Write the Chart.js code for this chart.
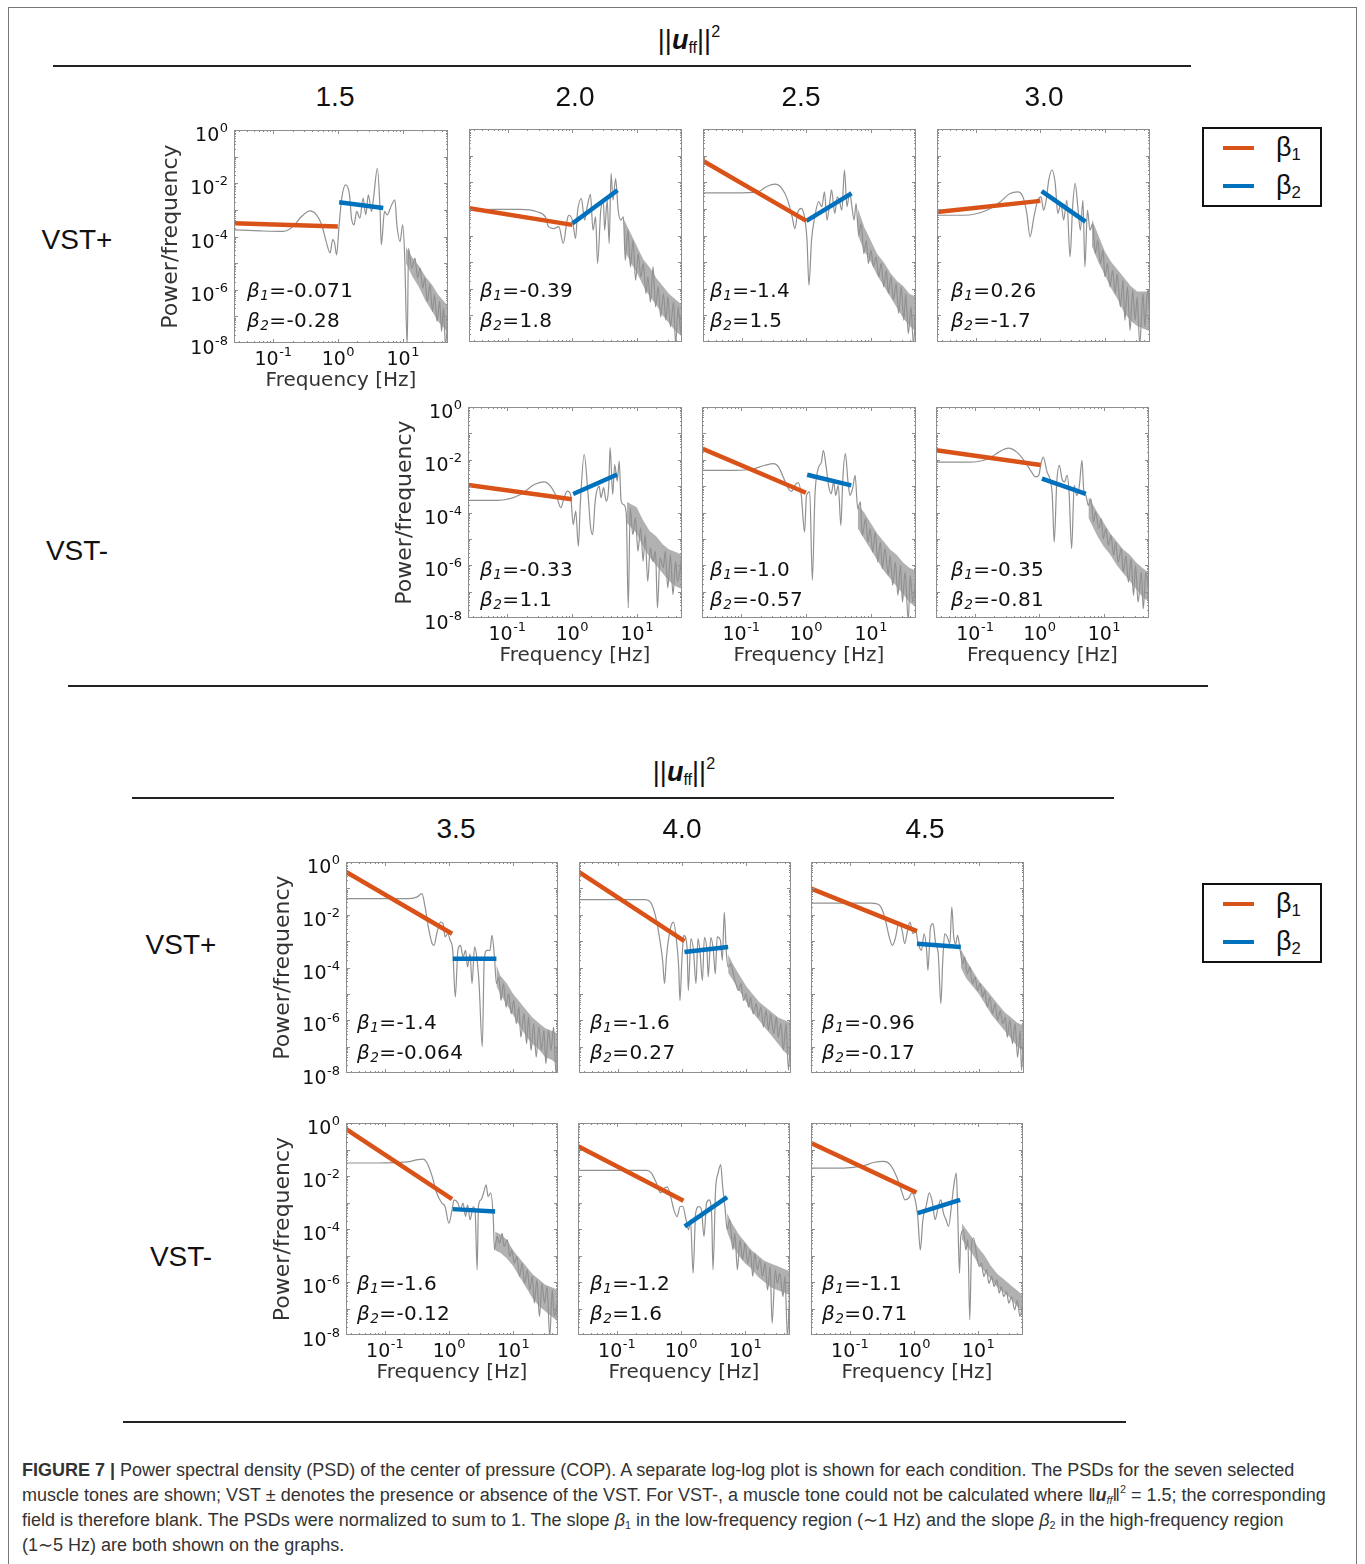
<!DOCTYPE html>
<html><head><meta charset="utf-8">
<script src="https://cdn.jsdelivr.net/npm/chart.js@4.4.1/dist/chart.umd.min.js"></script>
<style>
html,body{margin:0;padding:0;background:#fff;}
body{width:1365px;height:1564px;position:relative;overflow:hidden;font-family:"Liberation Sans",Arial,sans-serif;color:#111;}
canvas{position:absolute;}
.frame{position:absolute;left:8px;top:7px;width:1349px;height:1560px;border:1px solid #777;box-sizing:border-box;}
.hdr{position:absolute;font-size:28px;transform:translate(-50%,-50%);white-space:nowrap;line-height:1;}
.rule{position:absolute;height:2px;background:#222;}
.beta{position:absolute;font-family:"DejaVu Sans",sans-serif;font-size:20px;letter-spacing:0.4px;line-height:30px;white-space:nowrap;color:#111;}
.beta sub{font-size:0.68em;vertical-align:-0.22em;font-style:italic;line-height:0;}
.legend{position:absolute;border:2px solid #111;box-sizing:border-box;width:120px;height:80px;}
.legend .ln{position:absolute;left:19px;width:31px;height:4px;}
.legend .lt{position:absolute;left:72px;font-size:27px;line-height:1;}
.legend .lt sub{font-size:0.62em;vertical-align:-0.25em;line-height:0;}
.cap{position:absolute;left:22px;top:1458px;font-size:18px;line-height:25px;color:#333;white-space:nowrap;}
sup.s{font-size:0.6em;vertical-align:0.7em;line-height:0;}
sub.s{font-size:0.6em;vertical-align:-0.25em;line-height:0;}
</style>
</head><body>
<div class="frame"></div>

<script>
// ---------- DATA (log10 frequency, log10 power) ----------
const tones = ['1.5','2.0','2.5','3.0','3.5','4.0','4.5'];
const conditions = ['VST+','VST-'];
const xTickValues = [0.1, 1, 10];
const yTickValues = [1e-8, 1e-6, 1e-4, 1e-2, 1];
const xTickExps = ['-1','0','1'];
const yTickExps = ['-8','-6','-4','-2','0'];

const beta1Labels = ['-0.071','-0.39','-1.4','0.26','-0.33','-1.0','-0.35','-1.4','-1.6','-0.96','-1.6','-1.2','-1.1'];
const beta2Labels = ['-0.28','1.8','1.5','-1.7','1.1','-0.57','-0.81','-0.064','0.27','-0.17','-0.12','1.6','0.71'];

// 1.5 VST+
const psd_15_plus = [[-1.6,-3.75],[-1.2,-3.79],[-0.84,-3.81],[-0.69,-3.62],[-0.56,-3.25],[-0.43,-3.04],[-0.33,-3.19],[-0.25,-3.56],[-0.18,-4.19],[-0.12,-4.62],[-0.08,-4.12],[-0.05,-4.25],[-0.02,-4.69],[0.02,-3.56],[0.06,-2.56],[0.12,-2.06],[0.18,-2.44],[0.21,-3.31],[0.25,-3.56],[0.29,-3.06],[0.34,-3.31],[0.39,-2.56],[0.43,-3.19],[0.47,-2.44],[0.52,-3.06],[0.55,-2.56],[0.61,-1.44],[0.65,-2.94],[0.67,-4.31],[0.72,-3.06],[0.76,-3.19],[0.83,-2.81],[0.88,-2.62],[0.91,-3.56],[0.96,-4.19],[1.0,-3.56],[1.03,-4.69],[1.07,-8.1],[1.09,-4.44],[1.14,-5.19],[1.19,-4.81],[1.23,-5.56],[1.27,-5.19],[1.31,-5.94],[1.34,-5.56],[1.38,-6.44],[1.42,-5.81],[1.46,-6.81],[1.49,-6.19],[1.53,-7.19],[1.57,-6.44],[1.6,-7.56],[1.63,-6.69],[1.66,-8.1],[1.7,-6.81]];
const band_15_plus = [[1.05,-4.4,-5.0],[1.15,-4.8,-5.5],[1.25,-5.1,-5.9],[1.35,-5.5,-6.4],[1.45,-5.8,-6.8],[1.55,-6.2,-7.2],[1.7,-6.6,-7.6]];
const fit1_15_plus = [[-1.6,-3.5],[0,-3.62]];
const fit2_15_plus = [[0.02,-2.71],[0.7,-2.93]];

// 2.0 VST+
const psd_20_plus = [[-1.6,-3.05],[-1.22,-3.02],[-0.81,-3.02],[-0.55,-3.11],[-0.42,-3.3],[-0.37,-3.67],[-0.29,-3.74],[-0.21,-3.67],[-0.14,-4.3],[-0.09,-3.55],[-0.06,-3.24],[0.0,-3.42],[0.05,-4.11],[0.08,-3.11],[0.14,-2.61],[0.19,-3.42],[0.23,-2.92],[0.28,-2.45],[0.32,-3.8],[0.36,-3.3],[0.39,-5.05],[0.44,-3.05],[0.48,-2.67],[0.5,-3.8],[0.54,-2.67],[0.57,-4.3],[0.6,-1.67],[0.63,-2.67],[0.67,-1.86],[0.71,-3.05],[0.75,-3.42],[0.79,-3.3],[0.82,-4.93],[0.86,-3.8],[0.9,-5.18],[0.94,-4.18],[0.98,-5.68],[1.02,-4.68],[1.06,-5.55],[1.1,-5.05],[1.14,-6.18],[1.17,-5.55],[1.21,-6.5],[1.25,-5.18],[1.29,-6.68],[1.33,-5.93],[1.37,-7.06],[1.41,-6.18],[1.45,-7.18],[1.48,-6.3],[1.52,-7.43],[1.57,-6.5],[1.6,-8.1],[1.64,-6.68],[1.68,-7.68],[1.7,-6.8]];
const band_20_plus = [[0.8,-3.4,-4.5],[0.9,-3.9,-5.0],[1.0,-4.4,-5.4],[1.1,-4.9,-5.9],[1.2,-5.2,-6.3],[1.3,-5.6,-6.6],[1.4,-5.9,-7.0],[1.5,-6.2,-7.3],[1.6,-6.4,-7.6],[1.7,-6.6,-7.8]];
const fit1_20_plus = [[-1.6,-2.98],[0,-3.6]];
const fit2_20_plus = [[0.0,-3.55],[0.7,-2.3]];

// 2.5 VST+
const psd_25_plus = [[-1.6,-2.4],[-1.11,-2.4],[-0.75,-2.36],[-0.62,-2.17],[-0.49,-2.07],[-0.38,-2.23],[-0.29,-2.67],[-0.22,-3.3],[-0.18,-3.74],[-0.13,-3.11],[-0.08,-2.98],[-0.03,-3.3],[0.01,-4.18],[0.04,-5.87],[0.08,-4.18],[0.13,-3.3],[0.19,-2.73],[0.24,-2.92],[0.28,-2.36],[0.32,-3.42],[0.36,-2.8],[0.39,-2.29],[0.44,-3.17],[0.48,-2.55],[0.51,-2.67],[0.55,-3.05],[0.59,-1.54],[0.63,-2.92],[0.67,-2.36],[0.7,-2.8],[0.74,-3.42],[0.77,-2.8],[0.81,-3.99],[0.85,-3.55],[0.89,-4.68],[0.93,-4.18],[0.96,-5.05],[1.0,-4.55],[1.04,-5.18],[1.08,-4.8],[1.12,-5.55],[1.16,-5.05],[1.2,-5.93],[1.24,-5.3],[1.27,-6.18],[1.31,-5.55],[1.35,-6.43],[1.39,-5.8],[1.43,-6.93],[1.47,-5.93],[1.51,-7.18],[1.54,-6.18],[1.58,-7.69],[1.62,-6.68],[1.66,-8.1],[1.7,-6.43]];
const band_25_plus = [[0.8,-3.0,-4.0],[0.9,-3.7,-4.6],[1.0,-4.2,-5.0],[1.1,-4.7,-5.5],[1.2,-5.0,-5.9],[1.3,-5.4,-6.3],[1.4,-5.7,-6.7],[1.5,-5.9,-7.1],[1.6,-6.2,-7.4],[1.7,-6.3,-7.6]];
const fit1_25_plus = [[-1.6,-1.2],[0,-3.45]];
const fit2_25_plus = [[0,-3.45],[0.7,-2.42]];

// 3.0 VST+
const psd_30_plus = [[-1.6,-3.24],[-1.19,-3.24],[-0.83,-3.05],[-0.62,-2.73],[-0.47,-2.42],[-0.35,-2.36],[-0.27,-2.55],[-0.21,-3.17],[-0.16,-4.05],[-0.1,-3.3],[-0.04,-2.67],[0.01,-2.55],[0.05,-3.05],[0.09,-2.67],[0.13,-1.92],[0.18,-1.54],[0.23,-2.04],[0.27,-3.17],[0.32,-2.8],[0.36,-3.42],[0.41,-2.67],[0.46,-4.8],[0.5,-2.92],[0.54,-2.04],[0.58,-2.92],[0.62,-3.8],[0.66,-2.67],[0.69,-5.18],[0.73,-3.05],[0.77,-3.8],[0.81,-3.55],[0.85,-4.68],[0.89,-4.18],[0.93,-5.05],[0.97,-4.55],[1.0,-5.55],[1.04,-5.05],[1.08,-5.93],[1.12,-5.3],[1.16,-6.18],[1.19,-5.43],[1.24,-6.68],[1.28,-5.68],[1.31,-7.18],[1.35,-5.93],[1.39,-7.56],[1.43,-6.06],[1.47,-7.18],[1.5,-6.31],[1.54,-8.1],[1.59,-6.18],[1.62,-7.43],[1.66,-6.06],[1.7,-7.18]];
const band_30_plus = [[0.8,-3.4,-4.4],[0.9,-4.0,-5.0],[1.0,-4.6,-5.5],[1.1,-5.0,-6.0],[1.2,-5.3,-6.4],[1.3,-5.6,-6.9],[1.4,-5.9,-7.2],[1.5,-6.1,-7.4],[1.6,-6.1,-7.5],[1.7,-6.1,-7.6]];
const fit1_30_plus = [[-1.6,-3.12],[0,-2.7]];
const fit2_30_plus = [[0.02,-2.33],[0.7,-3.48]];

// 2.0 VST-
const psd_20_minus = [[-1.6,-3.54],[-1.15,-3.54],[-0.79,-3.32],[-0.58,-2.94],[-0.43,-2.84],[-0.33,-3.0],[-0.23,-3.44],[-0.17,-3.82],[-0.12,-3.44],[-0.07,-3.19],[-0.02,-3.32],[0.02,-4.46],[0.06,-3.95],[0.1,-5.28],[0.13,-3.7],[0.19,-1.8],[0.25,-3.32],[0.29,-4.58],[0.32,-4.84],[0.36,-3.57],[0.42,-3.0],[0.45,-3.44],[0.49,-3.06],[0.53,-3.57],[0.57,-2.94],[0.59,-1.54],[0.63,-3.32],[0.66,-2.18],[0.7,-2.81],[0.73,-2.05],[0.76,-3.57],[0.8,-3.7],[0.84,-4.08],[0.87,-7.62],[0.9,-3.82],[0.94,-4.84],[0.98,-4.2],[1.02,-5.47],[1.06,-4.58],[1.1,-5.85],[1.13,-4.84],[1.17,-6.61],[1.21,-5.34],[1.25,-5.85],[1.29,-5.47],[1.32,-7.62],[1.36,-5.72],[1.41,-6.1],[1.44,-5.47],[1.48,-6.86],[1.52,-5.6],[1.56,-7.11],[1.6,-5.85],[1.63,-6.61],[1.7,-5.6]];
const band_20_minus = [[0.85,-3.6,-4.4],[1.0,-3.8,-4.8],[1.1,-4.3,-5.3],[1.2,-4.7,-5.7],[1.3,-4.9,-6.0],[1.4,-5.2,-6.3],[1.5,-5.4,-6.6],[1.6,-5.5,-6.8],[1.7,-5.6,-6.9]];
const fit1_20_minus = [[-1.6,-2.96],[0,-3.5]];
const fit2_20_minus = [[0.02,-3.3],[0.7,-2.56]];

// 2.5 VST-
const psd_25_minus = [[-1.6,-2.4],[-1.09,-2.4],[-0.84,-2.36],[-0.63,-2.21],[-0.5,-2.15],[-0.42,-2.28],[-0.35,-2.65],[-0.27,-3.1],[-0.22,-3.2],[-0.17,-2.97],[-0.12,-2.87],[-0.07,-3.35],[-0.02,-4.74],[0.01,-3.35],[0.06,-3.22],[0.1,-6.57],[0.14,-3.35],[0.19,-2.34],[0.24,-2.09],[0.27,-1.64],[0.31,-2.21],[0.35,-2.97],[0.39,-3.29],[0.43,-2.84],[0.46,-3.35],[0.5,-2.97],[0.54,-4.49],[0.57,-2.72],[0.61,-1.77],[0.65,-2.84],[0.68,-3.35],[0.72,-3.1],[0.76,-2.59],[0.8,-3.86],[0.84,-3.6],[0.87,-4.87],[0.92,-4.24],[0.96,-5.12],[0.99,-4.61],[1.03,-5.5],[1.07,-4.74],[1.11,-5.88],[1.15,-5.12],[1.18,-6.13],[1.22,-5.37],[1.27,-6.38],[1.3,-5.63],[1.34,-6.76],[1.38,-5.88],[1.42,-7.14],[1.46,-6.0],[1.49,-7.4],[1.53,-6.26],[1.58,-8.1],[1.61,-6.38],[1.65,-7.4],[1.7,-6.38]];
const band_25_minus = [[0.8,-3.7,-4.6],[0.9,-4.0,-5.0],[1.0,-4.4,-5.4],[1.1,-4.8,-5.8],[1.2,-5.1,-6.2],[1.3,-5.4,-6.5],[1.4,-5.6,-6.8],[1.5,-5.9,-7.1],[1.6,-6.1,-7.4],[1.7,-6.2,-7.6]];
const fit1_25_minus = [[-1.6,-1.58],[0,-3.25]];
const fit2_25_minus = [[0.02,-2.57],[0.7,-2.97]];

// 3.0 VST-
const psd_30_minus = [[-1.6,-2.09],[-1.09,-2.09],[-0.79,-1.96],[-0.63,-1.71],[-0.48,-1.56],[-0.35,-1.71],[-0.24,-2.02],[-0.17,-2.28],[-0.12,-2.47],[-0.06,-2.65],[-0.01,-2.59],[0.03,-2.09],[0.06,-1.9],[0.12,-2.47],[0.17,-2.78],[0.2,-3.35],[0.23,-5.12],[0.27,-2.84],[0.31,-2.21],[0.35,-2.72],[0.39,-2.84],[0.43,-2.59],[0.46,-3.22],[0.5,-5.37],[0.54,-2.97],[0.58,-3.35],[0.62,-2.97],[0.66,-2.02],[0.69,-3.22],[0.72,-3.35],[0.76,-3.73],[0.8,-3.48],[0.84,-4.36],[0.87,-3.98],[0.92,-4.61],[0.96,-4.24],[0.99,-4.99],[1.03,-4.61],[1.07,-5.25],[1.11,-4.87],[1.15,-5.63],[1.18,-5.12],[1.22,-5.88],[1.27,-5.37],[1.3,-6.26],[1.34,-5.63],[1.38,-6.64],[1.42,-5.76],[1.46,-7.14],[1.49,-6.0],[1.53,-7.4],[1.58,-6.26],[1.61,-7.65],[1.65,-6.26],[1.7,-7.14]];
const band_30_minus = [[0.76,-3.4,-4.2],[0.9,-4.0,-4.9],[1.0,-4.4,-5.3],[1.1,-4.8,-5.6],[1.2,-5.1,-6.0],[1.3,-5.4,-6.3],[1.4,-5.6,-6.6],[1.5,-5.9,-6.9],[1.6,-6.1,-7.2],[1.7,-6.3,-7.4]];
const fit1_30_minus = [[-1.6,-1.64],[0.02,-2.2]];
const fit2_30_minus = [[0.04,-2.72],[0.72,-3.29]];

// 3.5 VST+
const psd_35_plus = [[-1.6,-1.39],[-1.12,-1.39],[-0.65,-1.39],[-0.5,-1.33],[-0.42,-1.2],[-0.37,-1.71],[-0.32,-2.47],[-0.26,-3.1],[-0.23,-3.16],[-0.19,-2.72],[-0.13,-2.28],[-0.09,-2.34],[-0.06,-2.84],[-0.02,-2.72],[0.02,-2.97],[0.06,-3.35],[0.1,-5.12],[0.14,-3.35],[0.18,-3.16],[0.22,-3.6],[0.26,-3.35],[0.29,-3.98],[0.33,-3.48],[0.36,-4.61],[0.4,-3.22],[0.44,-3.73],[0.47,-4.61],[0.52,-7.0],[0.55,-3.73],[0.59,-3.35],[0.64,-3.35],[0.67,-2.78],[0.71,-3.6],[0.74,-4.61],[0.78,-4.36],[0.81,-5.25],[0.85,-4.61],[0.89,-5.5],[0.93,-4.99],[0.97,-5.75],[1.01,-5.25],[1.05,-6.13],[1.09,-5.5],[1.12,-6.64],[1.17,-5.75],[1.21,-6.89],[1.24,-5.88],[1.28,-7.14],[1.32,-6.13],[1.36,-7.4],[1.4,-6.26],[1.44,-7.14],[1.48,-6.38],[1.51,-7.65],[1.55,-6.38],[1.59,-7.14],[1.63,-6.26],[1.67,-8.1],[1.7,-6.64]];
const band_35_plus = [[0.74,-3.9,-4.7],[0.8,-4.3,-5.0],[0.9,-4.6,-5.4],[1.0,-5.0,-5.8],[1.1,-5.3,-6.2],[1.2,-5.6,-6.6],[1.3,-5.9,-6.9],[1.4,-6.1,-7.1],[1.5,-6.3,-7.4],[1.6,-6.4,-7.5],[1.7,-6.5,-7.7]];
const fit1_35_plus = [[-1.6,-0.38],[0.05,-2.72]];
const fit2_35_plus = [[0.06,-3.67],[0.74,-3.67]];

// 4.0 VST+
const psd_40_plus = [[-1.6,-1.43],[-1.12,-1.43],[-0.57,-1.43],[-0.49,-1.52],[-0.42,-1.96],[-0.35,-2.84],[-0.3,-3.73],[-0.27,-4.61],[-0.24,-3.6],[-0.18,-2.53],[-0.13,-2.28],[-0.09,-2.84],[-0.05,-3.98],[-0.03,-5.25],[0.0,-3.73],[0.03,-2.78],[0.08,-3.22],[0.1,-4.87],[0.14,-2.9],[0.18,-3.35],[0.22,-4.61],[0.25,-2.9],[0.28,-3.35],[0.32,-4.49],[0.35,-2.87],[0.39,-3.35],[0.41,-4.36],[0.45,-2.87],[0.49,-3.35],[0.52,-4.24],[0.55,-2.84],[0.6,-2.97],[0.63,-3.73],[0.66,-1.9],[0.69,-3.35],[0.72,-3.98],[0.76,-3.86],[0.8,-4.24],[0.84,-4.61],[0.88,-4.87],[0.92,-4.61],[0.96,-5.25],[1.0,-4.99],[1.04,-5.5],[1.07,-5.12],[1.11,-5.75],[1.16,-5.37],[1.19,-5.88],[1.23,-5.5],[1.27,-6.26],[1.31,-5.63],[1.35,-6.38],[1.38,-5.75],[1.43,-6.51],[1.47,-5.88],[1.5,-6.64],[1.54,-6.13],[1.58,-7.14],[1.62,-6.13],[1.66,-7.9],[1.7,-6.0]];
const band_40_plus = [[0.72,-3.5,-4.2],[0.8,-3.9,-4.5],[0.9,-4.3,-4.9],[1.0,-4.7,-5.3],[1.1,-5.0,-5.7],[1.2,-5.3,-6.0],[1.3,-5.5,-6.3],[1.4,-5.7,-6.6],[1.5,-5.9,-6.9],[1.6,-6.0,-7.2],[1.7,-6.1,-7.4]];
const fit1_40_plus = [[-1.6,-0.38],[0.04,-3.0]];
const fit2_40_plus = [[0.04,-3.41],[0.72,-3.22]];

// 4.5 VST+
const psd_45_plus = [[-1.6,-1.56],[-1.11,-1.56],[-0.67,-1.56],[-0.54,-1.64],[-0.46,-2.09],[-0.39,-2.84],[-0.34,-3.16],[-0.29,-2.84],[-0.24,-2.28],[-0.19,-2.59],[-0.15,-3.1],[-0.11,-2.65],[-0.07,-2.28],[-0.02,-2.72],[0.02,-2.59],[0.06,-3.1],[0.11,-3.35],[0.15,-2.72],[0.19,-3.35],[0.21,-4.11],[0.25,-2.47],[0.29,-2.34],[0.33,-3.1],[0.37,-3.48],[0.41,-5.37],[0.44,-3.73],[0.47,-2.72],[0.51,-2.84],[0.55,-3.1],[0.58,-1.71],[0.61,-2.84],[0.64,-3.1],[0.67,-2.78],[0.71,-3.35],[0.75,-3.86],[0.78,-3.6],[0.82,-4.24],[0.86,-3.98],[0.9,-4.61],[0.94,-4.36],[0.98,-4.87],[1.02,-4.61],[1.06,-5.12],[1.09,-4.87],[1.13,-5.5],[1.17,-5.12],[1.21,-5.75],[1.25,-5.37],[1.29,-6.0],[1.33,-5.63],[1.37,-6.13],[1.41,-5.88],[1.44,-6.64],[1.48,-6.0],[1.52,-6.89],[1.56,-6.13],[1.6,-7.4],[1.64,-6.38],[1.66,-7.9],[1.7,-6.13]];
const band_45_plus = [[0.72,-3.3,-4.0],[0.8,-3.7,-4.4],[0.9,-4.1,-4.7],[1.0,-4.5,-5.0],[1.1,-4.8,-5.4],[1.2,-5.1,-5.8],[1.3,-5.4,-6.1],[1.4,-5.7,-6.4],[1.5,-5.9,-6.7],[1.6,-6.1,-7.0],[1.7,-6.2,-7.2]];
const fit1_45_plus = [[-1.6,-1.01],[0.04,-2.62]];
const fit2_45_plus = [[0.04,-3.1],[0.72,-3.22]];

// 3.5 VST-
const psd_35_minus = [[-1.6,-1.51],[-1.12,-1.51],[-0.65,-1.47],[-0.5,-1.39],[-0.4,-1.36],[-0.34,-1.51],[-0.26,-2.02],[-0.19,-2.64],[-0.11,-3.02],[-0.06,-3.15],[0.0,-3.78],[0.05,-3.27],[0.08,-2.9],[0.14,-3.02],[0.18,-3.27],[0.22,-3.02],[0.26,-3.53],[0.29,-3.09],[0.33,-3.65],[0.38,-3.15],[0.41,-3.4],[0.44,-5.54],[0.46,-3.15],[0.5,-2.9],[0.54,-2.64],[0.58,-2.33],[0.61,-2.77],[0.65,-2.64],[0.69,-3.53],[0.71,-4.79],[0.75,-4.28],[0.79,-4.53],[0.83,-4.16],[0.86,-4.66],[0.91,-4.41],[0.95,-5.04],[0.98,-4.79],[1.02,-5.29],[1.06,-5.04],[1.1,-5.79],[1.14,-5.29],[1.18,-6.05],[1.22,-5.54],[1.26,-6.3],[1.3,-5.79],[1.33,-6.8],[1.37,-5.92],[1.41,-7.3],[1.45,-6.05],[1.49,-6.8],[1.53,-6.17],[1.57,-8.1],[1.61,-6.3],[1.64,-7.3],[1.7,-6.55]];
const band_35_minus = [[0.72,-4.1,-4.8],[0.8,-4.2,-4.9],[0.9,-4.4,-5.1],[1.0,-4.8,-5.4],[1.1,-5.1,-5.8],[1.2,-5.4,-6.2],[1.3,-5.7,-6.6],[1.4,-5.9,-6.9],[1.5,-6.1,-7.1],[1.6,-6.2,-7.3],[1.7,-6.3,-7.5]];
const fit1_35_minus = [[-1.6,-0.23],[0.05,-2.87]];
const fit2_35_minus = [[0.06,-3.25],[0.72,-3.34]];

// 4.0 VST-
const psd_40_minus = [[-1.6,-1.79],[-1.11,-1.79],[-0.53,-1.79],[-0.46,-1.89],[-0.38,-2.27],[-0.32,-2.64],[-0.26,-2.46],[-0.21,-2.42],[-0.16,-2.77],[-0.11,-3.27],[-0.06,-3.53],[-0.01,-3.15],[0.03,-3.15],[0.08,-3.65],[0.12,-4.03],[0.15,-3.65],[0.19,-5.67],[0.23,-3.4],[0.28,-3.15],[0.32,-3.27],[0.36,-4.28],[0.4,-3.02],[0.44,-2.9],[0.48,-3.53],[0.5,-5.54],[0.54,-2.52],[0.58,-1.89],[0.62,-1.57],[0.65,-2.39],[0.69,-3.27],[0.72,-4.03],[0.76,-3.65],[0.81,-4.79],[0.84,-4.16],[0.88,-5.54],[0.92,-4.41],[0.96,-5.16],[1.0,-4.53],[1.04,-5.29],[1.08,-4.79],[1.12,-5.79],[1.15,-4.91],[1.19,-5.54],[1.23,-5.16],[1.27,-5.79],[1.31,-5.29],[1.35,-6.3],[1.39,-5.42],[1.42,-7.56],[1.47,-5.54],[1.5,-6.05],[1.54,-5.67],[1.59,-6.55],[1.62,-5.79],[1.66,-8.1],[1.7,-5.79]];
const band_40_minus = [[0.72,-3.4,-4.1],[0.8,-3.8,-4.6],[0.9,-4.2,-5.0],[1.0,-4.5,-5.3],[1.1,-4.8,-5.5],[1.2,-5.0,-5.8],[1.3,-5.2,-6.0],[1.4,-5.3,-6.2],[1.5,-5.4,-6.3],[1.6,-5.5,-6.4],[1.7,-5.6,-6.5]];
const fit1_40_minus = [[-1.6,-0.88],[0.04,-2.93]];
const fit2_40_minus = [[0.06,-3.9],[0.72,-2.8]];

// 4.5 VST-
const psd_45_minus = [[-1.6,-1.7],[-1.09,-1.7],[-0.78,-1.61],[-0.63,-1.49],[-0.47,-1.45],[-0.37,-1.57],[-0.27,-2.02],[-0.19,-2.58],[-0.14,-2.9],[-0.08,-2.83],[-0.03,-2.64],[0.02,-2.9],[0.06,-3.53],[0.1,-4.79],[0.14,-3.65],[0.19,-3.15],[0.24,-2.64],[0.29,-3.02],[0.33,-3.65],[0.38,-3.15],[0.42,-2.9],[0.46,-3.4],[0.5,-3.65],[0.54,-3.9],[0.59,-3.02],[0.62,-2.39],[0.66,-1.89],[0.68,-3.15],[0.71,-5.67],[0.73,-4.28],[0.77,-4.03],[0.81,-4.79],[0.84,-4.4],[0.87,-7.43],[0.9,-4.53],[0.93,-4.34],[0.98,-5.04],[1.02,-5.42],[1.05,-5.29],[1.09,-5.79],[1.13,-5.54],[1.17,-6.05],[1.21,-5.79],[1.25,-6.17],[1.29,-5.92],[1.33,-6.42],[1.36,-6.17],[1.4,-6.55],[1.44,-6.36],[1.48,-6.8],[1.52,-6.55],[1.57,-7.05],[1.61,-6.68],[1.65,-7.3],[1.7,-6.74]];
const band_45_minus = [[0.75,-3.8,-4.4],[0.9,-4.3,-4.9],[1.0,-4.7,-5.3],[1.1,-5.0,-5.6],[1.2,-5.4,-5.9],[1.3,-5.7,-6.2],[1.4,-5.9,-6.4],[1.5,-6.1,-6.6],[1.6,-6.3,-6.9],[1.7,-6.5,-7.1]];
const fit1_45_minus = [[-1.6,-0.76],[0.04,-2.62]];
const fit2_45_minus = [[0.06,-3.4],[0.72,-2.9]];

// ---------- LAYOUT ----------
const panelDefs = [
  {psd:psd_15_plus, band:band_15_plus, f1:fit1_15_plus, f2:fit2_15_plus, L:234,T:130,W:214,H:213, sx:true,  sy:true,  bx:247, by:275},
  {psd:psd_20_plus, band:band_20_plus, f1:fit1_20_plus, f2:fit2_20_plus, L:469,T:129,W:213,H:213, sx:false, sy:false, bx:480, by:275},
  {psd:psd_25_plus, band:band_25_plus, f1:fit1_25_plus, f2:fit2_25_plus, L:703,T:129,W:213,H:213, sx:false, sy:false, bx:710, by:275},
  {psd:psd_30_plus, band:band_30_plus, f1:fit1_30_plus, f2:fit2_30_plus, L:937,T:129,W:213,H:213, sx:false, sy:false, bx:951, by:275},
  {psd:psd_20_minus, band:band_20_minus, f1:fit1_20_minus, f2:fit2_20_minus, L:468,T:407,W:214,H:211, sx:true, sy:true,  bx:480, by:554},
  {psd:psd_25_minus, band:band_25_minus, f1:fit1_25_minus, f2:fit2_25_minus, L:702,T:407,W:214,H:211, sx:true, sy:false, bx:710, by:554},
  {psd:psd_30_minus, band:band_30_minus, f1:fit1_30_minus, f2:fit2_30_minus, L:936,T:407,W:213,H:211, sx:true, sy:false, bx:951, by:554},
  {psd:psd_35_plus, band:band_35_plus, f1:fit1_35_plus, f2:fit2_35_plus, L:346,T:862,W:212,H:211, sx:false, sy:true,  bx:357, by:1007},
  {psd:psd_40_plus, band:band_40_plus, f1:fit1_40_plus, f2:fit2_40_plus, L:579,T:862,W:212,H:211, sx:false, sy:false, bx:590, by:1007},
  {psd:psd_45_plus, band:band_45_plus, f1:fit1_45_plus, f2:fit2_45_plus, L:811,T:862,W:213,H:211, sx:false, sy:false, bx:822, by:1007},
  {psd:psd_35_minus, band:band_35_minus, f1:fit1_35_minus, f2:fit2_35_minus, L:346,T:1123,W:212,H:212, sx:true, sy:true,  bx:357, by:1268},
  {psd:psd_40_minus, band:band_40_minus, f1:fit1_40_minus, f2:fit2_40_minus, L:578,T:1123,W:212,H:212, sx:true, sy:false, bx:590, by:1268},
  {psd:psd_45_minus, band:band_45_minus, f1:fit1_45_minus, f2:fit2_45_minus, L:811,T:1123,W:212,H:212, sx:true, sy:false, bx:822, by:1268}
];
const PAD_L = 76, PAD_T = 12, PAD_R = 12, PAD_B = 50;

const toPts = arr => arr.map(p => ({x: Math.pow(10, p[0]), y: Math.pow(10, p[1])}));
const bandPts = (arr, k) => arr.map(p => ({x: Math.pow(10, p[0]), y: Math.pow(10, p[k])}));

const framePlugin = {
  id: 'frame',
  afterDatasetsDraw(chart) {
    const {ctx, chartArea: a, scales: {x, y}} = chart;
    ctx.save();
    ctx.strokeStyle = '#8e8e8e';
    ctx.lineWidth = 1;
    ctx.strokeRect(Math.round(a.left) + 0.5, Math.round(a.top) + 0.5, Math.round(a.width) - 1, Math.round(a.height) - 1);
    ctx.beginPath();
    for (let e = -2; e <= 1; e++) for (let m = 1; m <= 9; m++) {
      const v = m * Math.pow(10, e);
      if (v <= x.min || v >= x.max) continue;
      const px = Math.round(x.getPixelForValue(v)) + 0.5, len = m === 1 ? 4 : 2;
      ctx.moveTo(px, a.bottom); ctx.lineTo(px, a.bottom - len);
      ctx.moveTo(px, a.top); ctx.lineTo(px, a.top + len);
    }
    for (let e = -8; e <= -1; e++) for (let m = 1; m <= 9; m++) {
      const v = m * Math.pow(10, e);
      if (v <= y.min || v >= y.max) continue;
      const py = Math.round(y.getPixelForValue(v)) + 0.5, len = m === 1 ? 4 : 2;
      ctx.moveTo(a.left, py); ctx.lineTo(a.left + len, py);
      ctx.moveTo(a.right, py); ctx.lineTo(a.right - len, py);
    }
    ctx.stroke();
    ctx.restore();
  }
};

// tick labels "10" with raised exponent, placed with the chart's own scales
const tickLabelPlugin = {
  id: 'powTicks',
  afterDraw(chart, args, opts) {
    const {ctx, chartArea: a, scales: {x, y}} = chart;
    ctx.save();
    ctx.fillStyle = '#111';
    ctx.textBaseline = 'alphabetic';
    const baseFont = '19px "DejaVu Sans"', expFont = '13px "DejaVu Sans"';
    const measure = (t, f) => { ctx.font = f; return ctx.measureText(t).width; };
    if (opts.showX) {
      xTickValues.forEach((v, i) => {
        const px = x.getPixelForValue(v);
        const bw = measure('10', baseFont), ew = measure(xTickExps[i], expFont);
        const x0 = px - (bw + ew) / 2;
        ctx.font = baseFont; ctx.fillText('10', x0, a.bottom + 22);
        ctx.font = expFont; ctx.fillText(xTickExps[i], x0 + bw + 0.5, a.bottom + 13);
      });
    }
    if (opts.showY) {
      yTickValues.forEach((v, i) => {
        const py = y.getPixelForValue(v);
        const bw = measure('10', baseFont), ew = measure(yTickExps[i], expFont);
        const xr = a.left - 6;
        ctx.font = expFont; ctx.fillText(yTickExps[i], xr - ew, py + 2);
        ctx.font = baseFont; ctx.fillText('10', xr - ew - bw - 0.5, py + 11);
      });
    }
    ctx.restore();
  }
};

const titleFontX = {family: 'DejaVu Sans', size: 20};
const titleFontY = {family: 'DejaVu Sans', size: 22};

panelDefs.forEach((p, i) => {
  const cv = document.createElement('canvas');
  const w = p.W + PAD_L + PAD_R, h = p.H + PAD_T + PAD_B;
  cv.width = w; cv.height = h;
  cv.style.left = (p.L - PAD_L) + 'px';
  cv.style.top = (p.T - PAD_T) + 'px';
  cv.style.width = w + 'px'; cv.style.height = h + 'px';
  document.body.appendChild(cv);
  new Chart(cv.getContext('2d'), {
    type: 'scatter',
    data: {datasets: [
      {data: toPts(p.f1), showLine: true, borderColor: '#D95319', borderWidth: 4.5, pointRadius: 0, order: 1, borderCapStyle: 'butt'},
      {data: toPts(p.f2), showLine: true, borderColor: '#0072BD', borderWidth: 4.5, pointRadius: 0, order: 1, borderCapStyle: 'butt'},
      {data: toPts(p.psd), showLine: true, borderColor: 'rgb(145,145,145)', borderWidth: 1.2, pointRadius: 0, order: 3, cubicInterpolationMode: 'monotone'},
      {data: bandPts(p.band, 1), showLine: true, borderWidth: 0, borderColor: 'rgba(0,0,0,0)', pointRadius: 0, order: 5, fill: '+1', backgroundColor: 'rgba(140,140,140,0.68)'},
      {data: bandPts(p.band, 2), showLine: true, borderWidth: 0, borderColor: 'rgba(0,0,0,0)', pointRadius: 0, order: 5, fill: false}
    ]},
    options: {
      responsive: false, animation: false, devicePixelRatio: 1,
      layout: {padding: {left: 0, top: PAD_T, right: PAD_R, bottom: 0}},
      plugins: {legend: {display: false}, tooltip: {enabled: false}, powTicks: {showX: p.sx, showY: p.sy}},
      scales: {
        x: {
          type: 'logarithmic', min: 0.025, max: 50,
          afterBuildTicks: s => { s.ticks = xTickValues.map(v => ({value: v})); },
          afterFit: s => { s.height = PAD_B; },
          grid: {display: false, drawTicks: false}, border: {display: false},
          ticks: {display: false},
          title: {display: p.sx, text: 'Frequency [Hz]', font: titleFontX, color: '#333', padding: 0}
        },
        y: {
          type: 'logarithmic', min: 1e-8, max: 1,
          afterBuildTicks: s => { s.ticks = yTickValues.map(v => ({value: v})); },
          afterFit: s => { s.width = PAD_L; },
          grid: {display: false, drawTicks: false}, border: {display: false},
          ticks: {display: false},
          title: {display: p.sy, text: 'Power/frequency', font: titleFontY, color: '#333', padding: 0}
        }
      }
    },
    plugins: [framePlugin, tickLabelPlugin]
  });
  const b = document.createElement('div');
  b.className = 'beta';
  b.style.left = p.bx + 'px'; b.style.top = p.by + 'px';
  b.innerHTML = '<i>\u03B2<sub>1</sub></i>=' + beta1Labels[i] + '<br><i>\u03B2<sub>2</sub></i>=' + beta2Labels[i];
  document.body.appendChild(b);
});

// ---------- TEXT / DECORATIONS ----------
function addDiv(cls, html, style) {
  const d = document.createElement('div');
  d.className = cls; d.innerHTML = html;
  Object.assign(d.style, style);
  document.body.appendChild(d);
  return d;
}
const normLabel = '||<b><i>u</i></b><sub class="s">ff</sub>||<sup class="s">2</sup>';
addDiv('hdr', normLabel, {left: '689px', top: '40px', fontSize: '27px'});
addDiv('rule', '', {left: '53px', top: '65px', width: '1138px'});
const colX1 = [335, 575, 801, 1044];
[0,1,2,3].forEach((k, j) => addDiv('hdr', tones[k], {left: colX1[j] + 'px', top: '97px'}));
addDiv('hdr', conditions[0], {left: '77px', top: '240px'});
addDiv('hdr', conditions[1], {left: '77px', top: '551px'});
addDiv('rule', '', {left: '68px', top: '685px', width: '1140px'});

addDiv('hdr', normLabel, {left: '684px', top: '772px', fontSize: '27px'});
addDiv('rule', '', {left: '132px', top: '797px', width: '982px'});
const colX2 = [456, 682, 925];
[4,5,6].forEach((k, j) => addDiv('hdr', tones[k], {left: colX2[j] + 'px', top: '829px'}));
addDiv('hdr', conditions[0], {left: '181px', top: '945px'});
addDiv('hdr', conditions[1], {left: '181px', top: '1257px'});
addDiv('rule', '', {left: '123px', top: '1421px', width: '1003px'});

const legendHTML = '<div class="ln" style="top:17px;background:#D95319"></div><div class="lt" style="top:5px">\u03B2<sub>1</sub></div>' +
                   '<div class="ln" style="top:55px;background:#0072BD"></div><div class="lt" style="top:43px">\u03B2<sub>2</sub></div>';
addDiv('legend', legendHTML, {left: '1202px', top: '127px'});
addDiv('legend', legendHTML, {left: '1202px', top: '883px'});

addDiv('cap',
  '<b>FIGURE 7 |</b> Power spectral density (PSD) of the center of pressure (COP). A separate log-log plot is shown for each condition. The PSDs for the seven selected<br>' +
  'muscle tones are shown; VST \u00B1 denotes the presence or absence of the VST. For VST-, a muscle tone could not be calculated where \u2016<b><i>u</i></b><sub class="s"><i>ff</i></sub>\u2016<sup class="s">2</sup> = 1.5; the corresponding<br>' +
  'field is therefore blank. The PSDs were normalized to sum to 1. The slope <i>\u03B2</i><sub class="s">1</sub> in the low-frequency region (\u223C1 Hz) and the slope <i>\u03B2</i><sub class="s">2</sub> in the high-frequency region<br>' +
  '(1\u223C5 Hz) are both shown on the graphs.', {});
</script>
</body></html>
